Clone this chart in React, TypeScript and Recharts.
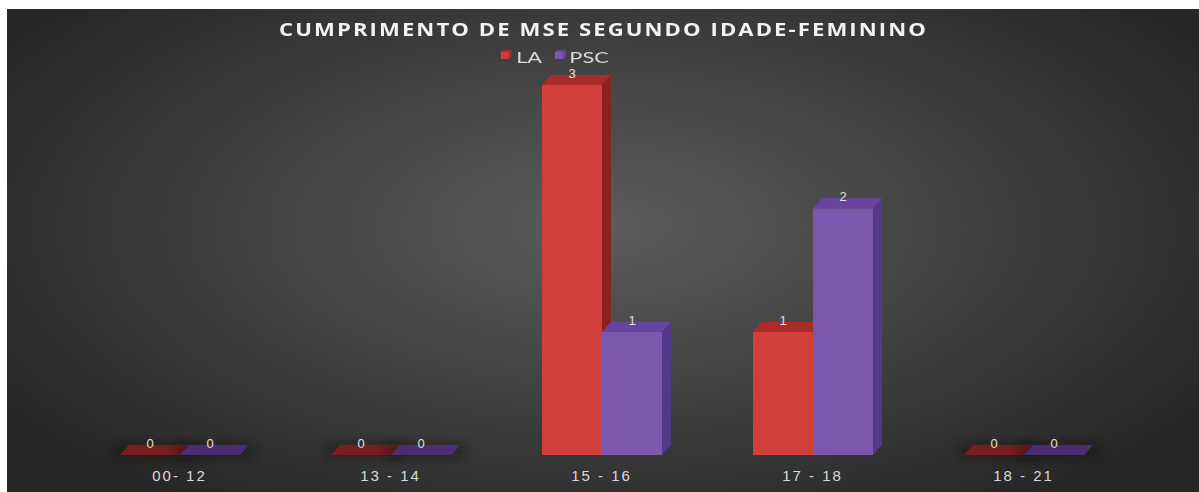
import React from "react";
import { Bar, BarChart, LabelList, XAxis, YAxis } from "recharts";

// age bands and counts
const categories = ["00- 12", "13 - 14", "15 - 16", "17 - 18", "18 - 21"];
const laValues = [0, 0, 3, 1, 0];
const pscValues = [0, 0, 1, 2, 0];

const data = categories.map((c, i) => ({ faixa: c, LA: laValues[i], PSC: pscValues[i] }));

const DX = 9;
const DY = 10;

type Palette = { front: string; top: string; side: string; flat: string };

const LA_COLORS: Palette = { front: "#d13f3b", top: "#a92c29", side: "#8a2220", flat: "#7a1e1d" };
const PSC_COLORS: Palette = { front: "#7c57ae", top: "#6744a2", side: "#553889", flat: "#4b2d74" };

function make3DBar(c: Palette) {
  return function Bar3D(props: any) {
    const { x, y, width, height } = props;
    if (x == null || y == null) return null;
    const h = Math.max(0, height || 0);
    if (h < 0.5) {
      // zero value: only the floor slab
      return (
        <g>
          <rect x={x - 6} y={y - DY - 2} width={width + DX + 12} height={DY + 6} fill="#111" opacity={0.35} filter="url(#slabShadow)" />
          <polygon
            points={`${x},${y} ${x + DX},${y - DY} ${x + width + DX},${y - DY} ${x + width},${y}`}
            fill={c.flat}
          />
        </g>
      );
    }
    return (
      <g>
        <rect x={x} y={y} width={width} height={h} fill={c.front} />
        <polygon
          points={`${x},${y} ${x + DX},${y - DY} ${x + width + DX},${y - DY} ${x + width},${y}`}
          fill={c.top}
        />
        <polygon
          points={`${x + width},${y} ${x + width + DX},${y - DY} ${x + width + DX},${y + h - DY} ${x + width},${y + h}`}
          fill={c.side}
        />
      </g>
    );
  };
}

function LegendIcon({ color, side }: { color: string; side: string }) {
  return (
    <svg width={8} height={9} style={{ marginRight: 3, marginTop: -4 }}>
      <rect x={0} y={2} width={6} height={7} fill={color} />
      <polygon points="0,2 2,0 8,0 6,2" fill={side} />
      <polygon points="6,2 8,0 8,7 6,9" fill={side} />
    </svg>
  );
}

export default function App() {
  return (
    <div
      style={{
        position: "absolute",
        left: 7,
        top: 9,
        width: 1192,
        height: 483,
        background: "radial-gradient(ellipse 60% 70% at 50% 45%, #5c5c5c 0%, #444 45%, #262626 100%)",
        fontFamily: "Lato, sans-serif",
      }}
    >
      <div
        style={{
          position: "absolute",
          left: 0,
          right: 0,
          top: 9,
          textAlign: "center",
          color: "#f2f2f2",
          fontFamily: "'Open Sans', sans-serif",
          fontWeight: 700,
          fontSize: 17,
          letterSpacing: 1.6,
          transform: "scaleX(1.3)",
          transformOrigin: "603px 0",
          paddingLeft: 4,
        }}
      >
        CUMPRIMENTO DE MSE SEGUNDO IDADE-FEMININO
      </div>
      <div
        style={{
          position: "absolute",
          left: 0,
          right: 0,
          top: 41,
          height: 13,
          lineHeight: "13px",
          display: "flex",
          justifyContent: "center",
          alignItems: "center",
          color: "#d9d9d9",
          fontSize: 16,
          transform: "scaleX(1.36)",
          transformOrigin: "548px 0",
          paddingRight: 96,
        }}
      >
        <span style={{ display: "flex", alignItems: "center", marginRight: 9 }}>
          <LegendIcon color={LA_COLORS.front} side={LA_COLORS.top} />
          LA
        </span>
        <span style={{ display: "flex", alignItems: "center" }}>
          <LegendIcon color={PSC_COLORS.front} side={PSC_COLORS.top} />
          PSC
        </span>
      </div>
      <BarChart
        width={1192}
        height={483}
        data={data}
        margin={{ top: 76, right: 70, left: 67, bottom: 7 }}
        barSize={60}
        barGap={0}
      >
        <defs>
          <filter id="slabShadow" x="-20%" y="-100%" width="140%" height="300%">
            <feGaussianBlur stdDeviation="4" />
          </filter>
        </defs>
        <XAxis
          dataKey="faixa"
          axisLine={false}
          tickLine={false}
          height={30}
          tickMargin={9}
          tick={{ fill: "#d9d9d9", fontSize: 15, fontFamily: "'Liberation Sans', Arial, sans-serif", letterSpacing: 2 }}
        />
        <YAxis hide domain={[0, 3]} />
        <Bar dataKey="LA" isAnimationActive={false} shape={make3DBar(LA_COLORS)}>
          <LabelList
            dataKey="LA"
            position="top"
            offset={7}
            fill="#e0e0e0"
            fontSize={13}
            fontFamily="'Liberation Sans', Arial, sans-serif"
          />
        </Bar>
        <Bar dataKey="PSC" isAnimationActive={false} shape={make3DBar(PSC_COLORS)}>
          <LabelList
            dataKey="PSC"
            position="top"
            offset={7}
            fill="#e0e0e0"
            fontSize={13}
            fontFamily="'Liberation Sans', Arial, sans-serif"
          />
        </Bar>
      </BarChart>
    </div>
  );
}
